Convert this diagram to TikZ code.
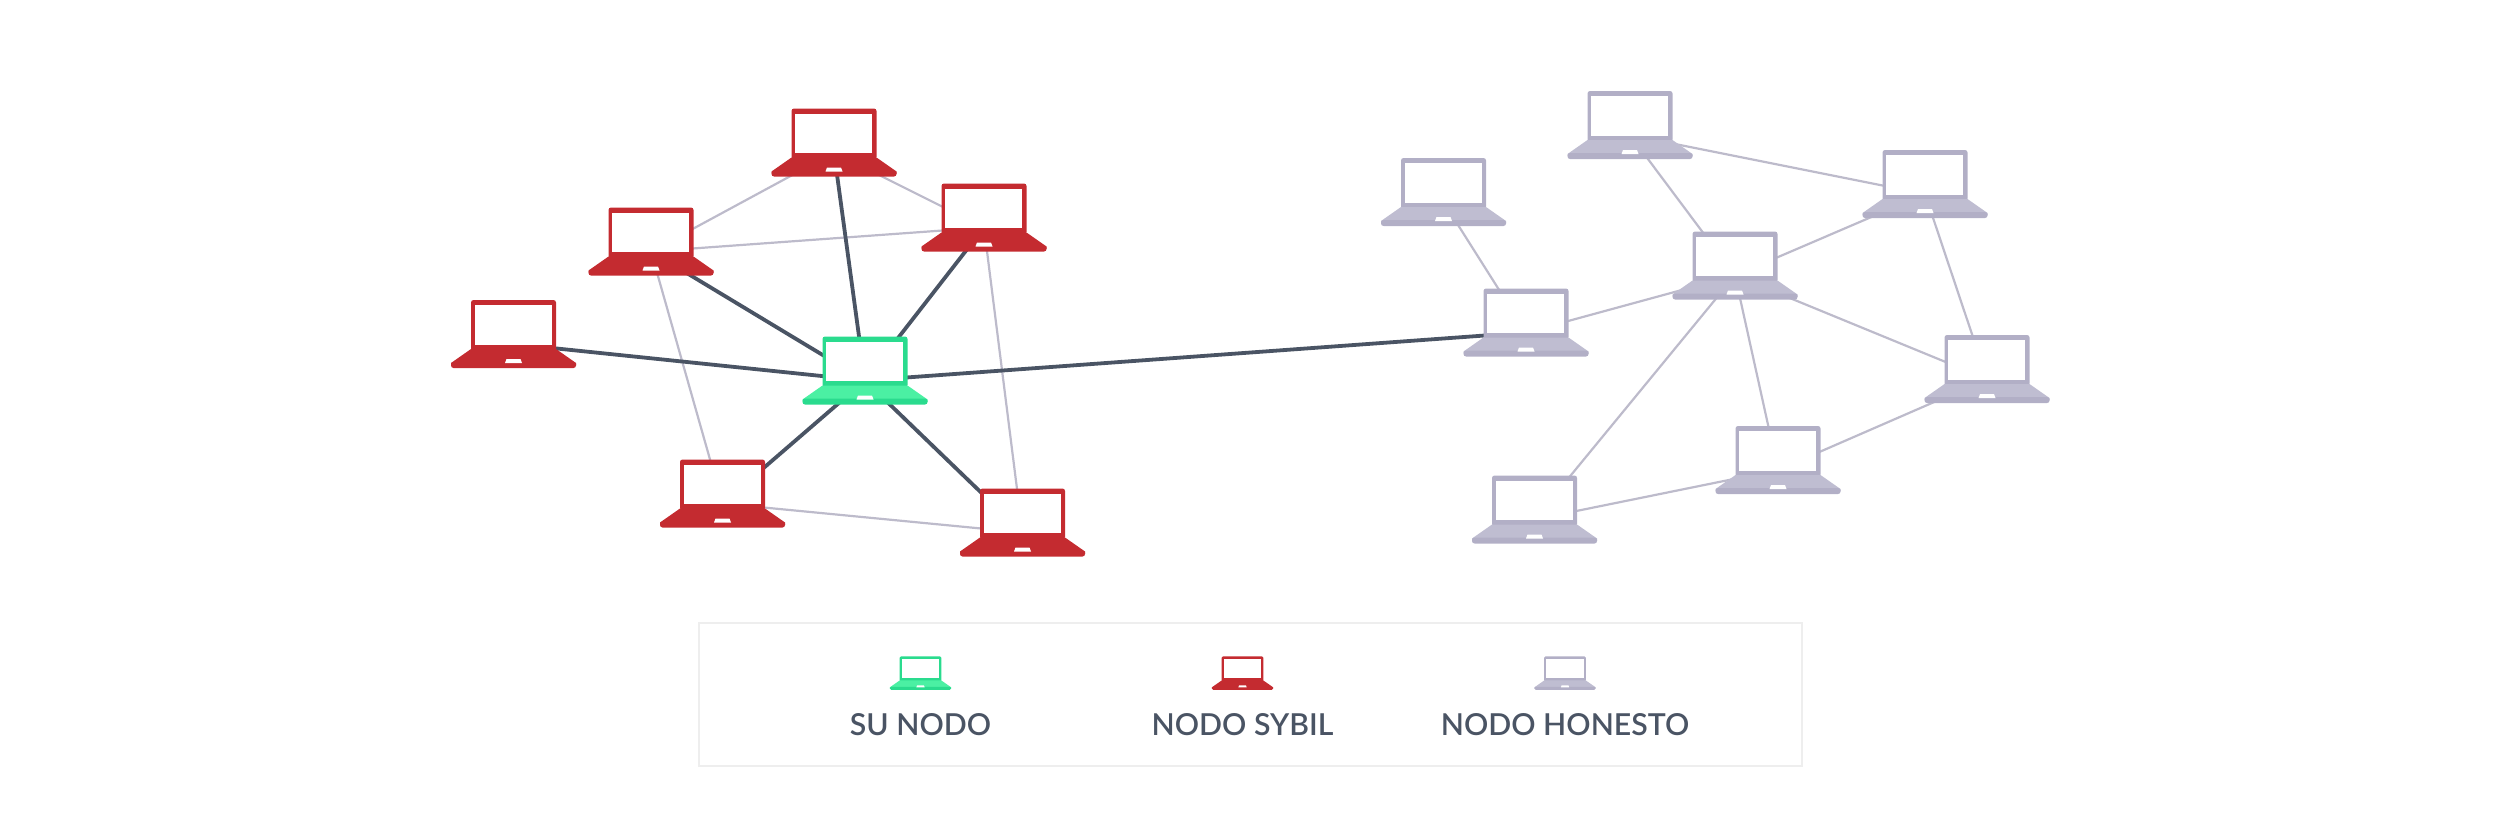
\documentclass[tikz,border=0pt]{standalone}
\usepackage{fontspec}
\setmainfont{Lato}
\newfontfamily\legendfont{Lato Semibold}
\usetikzlibrary{positioning,backgrounds}

\definecolor{mintline}{HTML}{2ADB8E}
\definecolor{mintfill}{HTML}{4BF0A3}
\definecolor{sybilline}{HTML}{C42B30}
\definecolor{sybilfill}{HTML}{C42B30}
\definecolor{honestline}{HTML}{B2AFC6}
\definecolor{honestfill}{HTML}{BFBDD1}
\definecolor{linkdark}{HTML}{4A5464}
\definecolor{linklight}{HTML}{BDBBCB}
\definecolor{framegrey}{HTML}{EEEEEE}

\begin{document}
\begin{tikzpicture}[
  x=0.1mm, y=-0.1mm,
  % laptop icon: frame colour, body colour, size factor
  % (node centre sits low on the lid, where the links aim)
  laptop/.style n args={3}{
    inner sep=0pt, minimum width=#3*12.7mm, minimum height=#3*9mm,
    path picture={
      \begin{scope}[shift={(path picture bounding box.center)}, x=#3*0.1mm, y=-#3*0.1mm]
        \fill[#1, rounded corners=#3*0.25mm] (-42.5,-44) rectangle (42.5,7);
        \fill[white] (-38.8,-39) rectangle (38,0.7);
        \fill[#2] (-42.5,5) -- (42.5,5) -- (62.5,19) -- (62.5,21) -- (-62.5,21) -- (-62.5,19) -- cycle;
        \fill[#1, rounded corners=#3*0.25mm] (-62.5,18) rectangle (62.5,24);
        \fill[white] (-7,15) -- (7,15) -- (8.5,19) -- (-8.5,19) -- cycle;
      \end{scope}
    }
  },
  mine/.style={laptop={mintline}{mintfill}{1}},
  sybil/.style={laptop={sybilline}{sybilfill}{1}},
  honest/.style={laptop={honestline}{honestfill}{1}},
  mineicon/.style={laptop={mintline}{mintfill}{0.49}},
  sybilicon/.style={laptop={sybilline}{sybilfill}{0.49}},
  honesticon/.style={laptop={honestline}{honestfill}{0.49}},
  strong/.style={draw=linkdark, line width=0.38mm},
  faint/.style={draw=linklight, line width=0.22mm},
  legendtext/.style={font=\fontsize{8.6}{10}\selectfont\legendfont, text=linkdark, inner sep=0pt}
]

\useasboundingbox (0,0) rectangle (2501,822);

% ---------- Sybil cluster ----------
\node[mine]  (me) at (865,380.5)  {};
\node[sybil] (s1) at (834,152.5)  {};
\node[sybil] (s2) at (984,227.5)  {};
\node[sybil] (s3) at (651,251.5)  {};
\node[sybil] (s4) at (513.5,344) {};
\node[sybil] (s5) at (722.5,503.5) {};
\node[sybil] (s6) at (1022.5,532.5) {};

% ---------- Honest cluster ----------
\node[honest] (h1) at (1443.5,202) {};
\node[honest] (h2) at (1630,135)   {};
\node[honest] (h3) at (1925,194)   {};
\node[honest] (h4) at (1735,275.5)     {};
\node[honest] (h5) at (1526,332.5)     {};
\node[honest] (h6) at (1987,379)   {};
\node[honest] (h7) at (1778,470)   {};
\node[honest] (h8) at (1534.5,519.5)   {};

% ---------- Links (behind the laptops) ----------
\begin{scope}[on background layer]
  \draw[faint] (s3.center) -- (s1.center);
  \draw[faint] (s1.center) -- (s2.center);
  \draw[faint] (s3.center) -- (s2.center);
  \draw[faint] (s3.center) -- (s5.center);
  \draw[faint] (s2.center) -- (s6.center);
  \draw[faint] (s5.center) -- (s6.center);

  \draw[faint] (h1.center) -- (h5.center);
  \draw[faint] (h2.center) -- (h4.center);
  \draw[faint] (h2.center) -- (h3.center);
  \draw[faint] (h4.center) -- (h3.center);
  \draw[faint] (h5.center) -- (h4.center);
  \draw[faint] (h4.center) -- (h6.center);
  \draw[faint] (h3.center) -- (h6.center);
  \draw[faint] (h4.center) -- (h8.center);
  \draw[faint] (h4.center) -- (h7.center);
  \draw[faint] (h7.center) -- (h6.center);
  \draw[faint] (h8.center) -- (h7.center);

  \draw[strong] (me.center) -- (s1.center);
  \draw[strong] (me.center) -- (s2.center);
  \draw[strong] (me.center) -- (s3.center);
  \draw[strong] (me.center) -- (s4.center);
  \draw[strong] (me.center) -- (s5.center);
  \draw[strong] (me.center) -- (s6.center);
  \draw[strong] (me.center) -- (h5.center);
\end{scope}

% ---------- Legend ----------
\node[draw=framegrey, line width=0.2mm, minimum width=110.3mm, minimum height=14.3mm, inner sep=0pt] (legend) at (1250.4,694) {};

\node[mineicon]   (k1) at (920.5,678) {};
\node[legendtext, below=1.2mm of k1] (k1t) {SU NODO};
\node[sybilicon]  (k2) at (1242.5,678) {};
\node[legendtext, below=1.2mm of k2] (k2t) {NODO SYBIL};
\node[honesticon] (k3) at (1565,678) {};
\node[legendtext, below=1.2mm of k3] (k3t) {NODO HONESTO};

\end{tikzpicture}
\end{document}
